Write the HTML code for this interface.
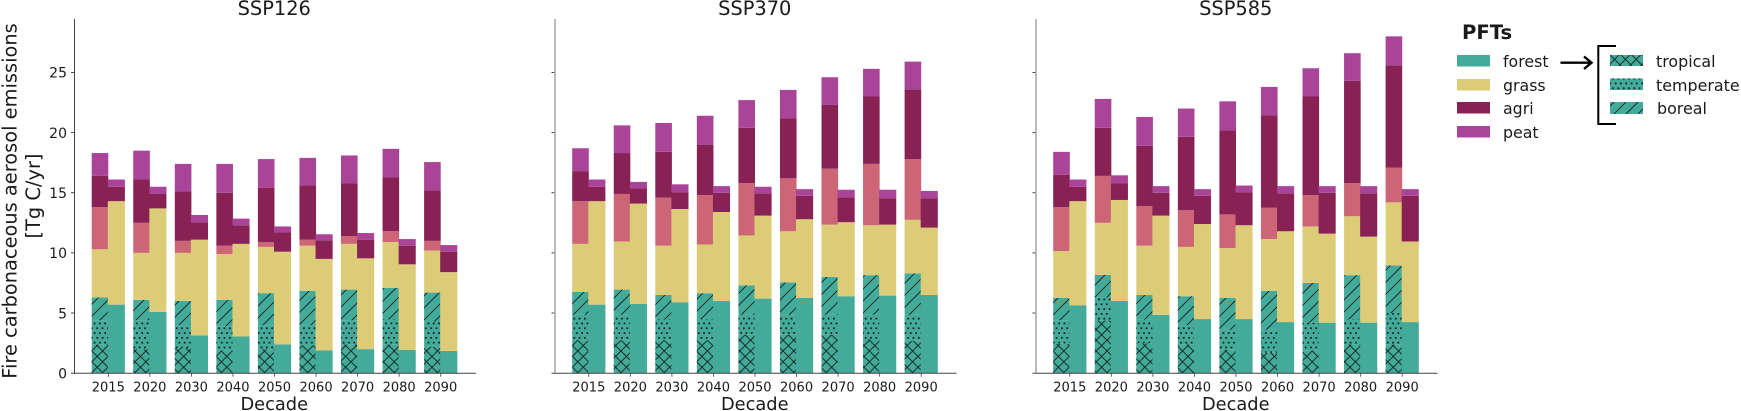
<!DOCTYPE html>
<html>
<head>
<meta charset="utf-8">
<title>Fire carbonaceous aerosol emissions by scenario</title>
<style>
html,body{margin:0;padding:0;background:#fff;width:1741px;height:411px;overflow:hidden}
svg{display:block}
text{font-family:"DejaVu Sans","Liberation Sans",sans-serif;fill:#1a1a1a}
</style>
</head>
<body>
<svg id="chart" xmlns="http://www.w3.org/2000/svg" width="1741" height="411" viewBox="0 0 1741 411">
  <defs>
    <pattern id="hatch-cross" patternUnits="userSpaceOnUse" width="10.8" height="10.8">
      <path d="M0 0L10.8 10.8M10.8 0L0 10.8" stroke="#000" stroke-width="0.9" fill="none" opacity="0.8"/>
    </pattern>
    <pattern id="hatch-dots" patternUnits="userSpaceOnUse" width="5.3" height="9.6">
      <rect x="1" y="1" width="1.7" height="1.7" fill="#000" opacity="0.85"/>
      <rect x="3.6" y="5.8" width="1.7" height="1.7" fill="#000" opacity="0.85"/>
    </pattern>
    <pattern id="hatch-slash" patternUnits="userSpaceOnUse" width="12" height="12">
      <path d="M-1 13L13 -1M-1 1L1 -1M11 13L13 11" stroke="#000" stroke-width="0.9" fill="none" opacity="0.8"/>
    </pattern>
  </defs>

  <g id="axes-layer"></g>

  <text transform="translate(16.7,201) rotate(-90)" text-anchor="middle" font-size="19.4">Fire carbonaceous aerosol emissions</text>
  <text transform="translate(40,196) rotate(-90)" text-anchor="middle" font-size="19.4">[Tg C/yr]</text>

  <g>
    <text x="1462" y="39" font-size="19.6" font-weight="bold" fill="#000">PFTs</text>
    <rect x="1457" y="55" width="33" height="11.5" fill="#44AA99"/>
    <text x="1503" y="67" font-size="15.8">forest</text>
    <rect x="1457" y="79" width="33" height="11.5" fill="#DDCC77"/>
    <text x="1503" y="91" font-size="15.8">grass</text>
    <rect x="1457" y="102" width="33" height="11.5" fill="#882255"/>
    <text x="1503" y="114" font-size="15.8">agri</text>
    <rect x="1457" y="126" width="33" height="11.5" fill="#AA4499"/>
    <text x="1503" y="138" font-size="15.8">peat</text>

    <path d="M1560.5 62.7H1591M1584 56.5L1591.5 62.7L1584 69" stroke="#000" stroke-width="2.4" fill="none"/>
    <path d="M1616 46H1598.3V124H1616" stroke="#000" stroke-width="2" fill="none"/>

    <rect x="1610" y="55" width="33" height="11" fill="#44AA99"/>
    <rect x="1610" y="55" width="33" height="11" fill="url(#hatch-cross)"/>
    <text x="1656" y="67" font-size="15.9">tropical</text>
    <rect x="1610" y="78.5" width="33" height="11.5" fill="#44AA99"/>
    <rect x="1610" y="78.5" width="33" height="11.5" fill="url(#hatch-dots)"/>
    <text x="1656" y="91" font-size="15.9">temperate</text>
    <rect x="1610" y="102" width="33" height="12" fill="#44AA99"/>
    <rect x="1610" y="102" width="33" height="12" fill="url(#hatch-slash)"/>
    <text x="1657" y="114" font-size="15.9">boreal</text>
  </g>
</svg>

<script>
const decades = ['2015','2020','2030','2040','2050','2060','2070','2080','2090'];
const yTicks = [0,5,10,15,20,25];
const scenarios = ['SSP126','SSP370','SSP585'];

const ssp126Tropical = [2.4,2.0,2.1,1.9,2.0,2.3,2.4,2.4,2.2];
const ssp126Temperate = [2.0,2.4,1.9,2.0,2.0,1.7,2.0,2.1,2.1];
const ssp126Boreal = [1.9,1.7,2.0,2.2,2.65,2.85,2.55,2.6,2.4];
const ssp126GrassLeft = [4.0,3.9,4.0,3.8,3.85,3.75,3.8,3.8,3.5];
const ssp126Pasture = [3.5,2.5,1.0,0.7,0.4,0.5,0.65,0.9,0.8];
const ssp126AgriLeft = [2.6,3.6,4.1,4.4,4.5,4.5,4.4,4.5,4.2];
const ssp126PeatLeft = [1.9,2.4,2.3,2.4,2.4,2.3,2.3,2.35,2.35];
const ssp126ForestRight = [5.7,5.1,3.15,3.05,2.4,1.9,2.0,1.95,1.85];
const ssp126GrassRight = [8.6,8.6,7.95,7.7,7.7,7.6,7.55,7.1,6.55];
const ssp126AgriRight = [1.2,1.2,1.45,1.55,1.6,1.55,1.55,1.55,1.7];
const ssp126PeatRight = [0.6,0.6,0.6,0.55,0.5,0.5,0.55,0.55,0.55];

const ssp370Tropical = [2.75,2.75,2.75,2.75,3.2,3.2,3.2,2.8,2.7];
const ssp370Temperate = [2.1,2.1,1.75,1.75,1.65,1.65,1.65,2.05,2.15];
const ssp370Boreal = [1.9,2.1,2.0,2.15,2.45,2.7,3.15,3.3,3.45];
const ssp370GrassLeft = [4.0,4.0,4.1,4.05,4.15,4.25,4.35,4.15,4.45];
const ssp370Pasture = [3.55,3.95,4.0,4.1,4.35,4.4,4.65,5.1,5.05];
const ssp370AgriLeft = [2.5,3.4,3.8,4.2,4.6,5.0,5.3,5.6,5.8];
const ssp370PeatLeft = [1.9,2.3,2.4,2.4,2.3,2.35,2.3,2.3,2.3];
const ssp370ForestRight = [5.7,5.75,5.9,6.0,6.2,6.25,6.4,6.45,6.5];
const ssp370GrassRight = [8.6,8.35,7.75,7.4,6.9,6.55,6.15,5.9,5.6];
const ssp370AgriRight = [1.2,1.25,1.4,1.6,1.85,1.95,2.05,2.2,2.45];
const ssp370PeatRight = [0.6,0.55,0.65,0.55,0.55,0.55,0.65,0.7,0.6];

const ssp585Tropical = [2.45,4.4,2.5,2.4,1.95,1.7,1.9,2.4,2.4];
const ssp585Temperate = [1.95,1.9,1.95,1.6,1.65,1.9,2.3,2.1,2.6];
const ssp585Boreal = [1.85,1.87,2.05,2.4,2.65,3.25,3.3,3.65,3.95];
const ssp585GrassLeft = [3.9,4.33,4.1,4.1,4.15,4.3,4.7,4.9,5.25];
const ssp585Pasture = [3.65,3.9,3.3,3.05,2.8,2.6,2.6,2.75,2.9];
const ssp585AgriLeft = [2.7,4.0,5.0,6.1,7.0,7.7,8.2,8.5,8.5];
const ssp585PeatLeft = [1.9,2.4,2.4,2.35,2.4,2.35,2.35,2.3,2.4];
const ssp585ForestRight = [5.65,6.0,4.85,4.5,4.5,4.25,4.2,4.2,4.25];
const ssp585GrassRight = [8.65,8.4,8.25,7.9,7.8,7.55,7.4,7.15,6.7];
const ssp585AgriRight = [1.2,1.4,1.9,2.35,2.75,3.15,3.4,3.6,3.8];
const ssp585PeatRight = [0.6,0.65,0.55,0.55,0.55,0.6,0.55,0.6,0.55];

const NS = 'http://www.w3.org/2000/svg';
const FOREST = '#44AA99', GRASS = '#DDCC77', ROSE = '#CC6677', AGRI = '#882255', PEAT = '#AA4499';
const layer = document.getElementById('axes-layer');

const BASE_Y = 373.2, UNIT_Y = 12.03, AXIS_TOP = 19;
const AXIS_W = 401.5, FIRST_OFFSET = 33.8, STEP = 41.55, BAR_W = 16.6, SEAM = 0.5;

function yScale(v) { return BASE_Y - v * UNIT_Y; }
function xScale(axisX, i) { return axisX + FIRST_OFFSET + STEP * i; }

function node(tag, attrs, parent) {
  const el = document.createElementNS(NS, tag);
  for (const k in attrs) el.setAttribute(k, attrs[k]);
  parent.appendChild(el);
  return el;
}

function drawStack(g, x, w, stack, prefix) {
  let cum = 0;
  stack.forEach(function (seg) {
    const top = cum + seg.v;
    const r = node('rect', {x: x, y: yScale(top), width: w, height: yScale(cum) - yScale(top), fill: seg.fill}, g);
    
    
    if (seg.hatch) {
      const h = node('rect', {x: x, y: yScale(top), width: BAR_W, height: yScale(cum) - yScale(top), fill: 'url(#' + seg.hatch + ')'}, g);
      
      
    }
    cum = top;
  });
}

function drawPanel(title, axisX, spineColor, spineWidth, showYLabels, d) {
  const g = node('g', {}, layer);
  
  

  decades.forEach(function (dec, i) {
    const cx = xScale(axisX, i);
    drawStack(g, cx - BAR_W, BAR_W, [
      {name: 'tropical', v: d.tropical[i], fill: FOREST, hatch: 'hatch-cross'},
      {name: 'temperate', v: d.temperate[i], fill: FOREST, hatch: 'hatch-dots'},
      {name: 'boreal', v: d.boreal[i], fill: FOREST, hatch: 'hatch-slash'},
      {name: 'grass', v: d.grassL[i], fill: GRASS},
      {name: 'pasture', v: d.pasture[i], fill: ROSE},
      {name: 'agri', v: d.agriL[i], fill: AGRI},
      {name: 'peat', v: d.peatL[i], fill: PEAT}
    ], 'bar-left-' + dec);
    drawStack(g, cx - SEAM, BAR_W + SEAM, [
      {name: 'forest', v: d.forestR[i], fill: FOREST},
      {name: 'grass', v: d.grassR[i], fill: GRASS},
      {name: 'agri', v: d.agriR[i], fill: AGRI},
      {name: 'peat', v: d.peatR[i], fill: PEAT}
    ], 'bar-right-' + dec);

    const tick = node('line', {x1: cx, x2: cx, y1: BASE_Y, y2: BASE_Y + 3.5, stroke: '#555', 'stroke-width': 0.9}, g);
    
    
    const lab = node('text', {x: cx, y: 391.7, 'text-anchor': 'middle', 'font-size': 13}, g);
    
    
    lab.textContent = dec;
  });

  yTicks.forEach(function (t) {
    const y = yScale(t);
    const tick = node('line', {x1: axisX - 3.5, x2: axisX, y1: y, y2: y, stroke: '#333', 'stroke-width': 0.9}, g);
    
    
    if (showYLabels) {
      const lab = node('text', {x: 67, y: y + 5.2, 'text-anchor': 'end', 'font-size': 14}, g);
      
      
      lab.textContent = t;
    }
  });

  const left = node('line', {x1: axisX, x2: axisX, y1: AXIS_TOP, y2: BASE_Y, stroke: spineColor, 'stroke-width': spineWidth}, g);
  
  
  const bottom = node('line', {x1: axisX - 0.5, x2: axisX + AXIS_W, y1: BASE_Y, y2: BASE_Y, stroke: '#444', 'stroke-width': 1}, g);
  
  

  const mid = axisX + AXIS_W / 2;
  const ttl = node('text', {x: mid - 1, y: 15, 'text-anchor': 'middle', 'font-size': 19.4}, g);
  
  
  ttl.textContent = title;
  const xl = node('text', {x: mid - 1, y: 410, 'text-anchor': 'middle', 'font-size': 17.8}, g);
  
  
  xl.textContent = 'Decade';
}

drawPanel(scenarios[0], 74.5, '#444', 1, true, {
  tropical: ssp126Tropical, temperate: ssp126Temperate, boreal: ssp126Boreal,
  grassL: ssp126GrassLeft, pasture: ssp126Pasture, agriL: ssp126AgriLeft, peatL: ssp126PeatLeft,
  forestR: ssp126ForestRight, grassR: ssp126GrassRight, agriR: ssp126AgriRight, peatR: ssp126PeatRight
});
drawPanel(scenarios[1], 555, '#aaa', 1.6, false, {
  tropical: ssp370Tropical, temperate: ssp370Temperate, boreal: ssp370Boreal,
  grassL: ssp370GrassLeft, pasture: ssp370Pasture, agriL: ssp370AgriLeft, peatL: ssp370PeatLeft,
  forestR: ssp370ForestRight, grassR: ssp370GrassRight, agriR: ssp370AgriRight, peatR: ssp370PeatRight
});
drawPanel(scenarios[2], 1036, '#aaa', 1.6, false, {
  tropical: ssp585Tropical, temperate: ssp585Temperate, boreal: ssp585Boreal,
  grassL: ssp585GrassLeft, pasture: ssp585Pasture, agriL: ssp585AgriLeft, peatL: ssp585PeatLeft,
  forestR: ssp585ForestRight, grassR: ssp585GrassRight, agriR: ssp585AgriRight, peatR: ssp585PeatRight
});
</script>
</body>
</html>
